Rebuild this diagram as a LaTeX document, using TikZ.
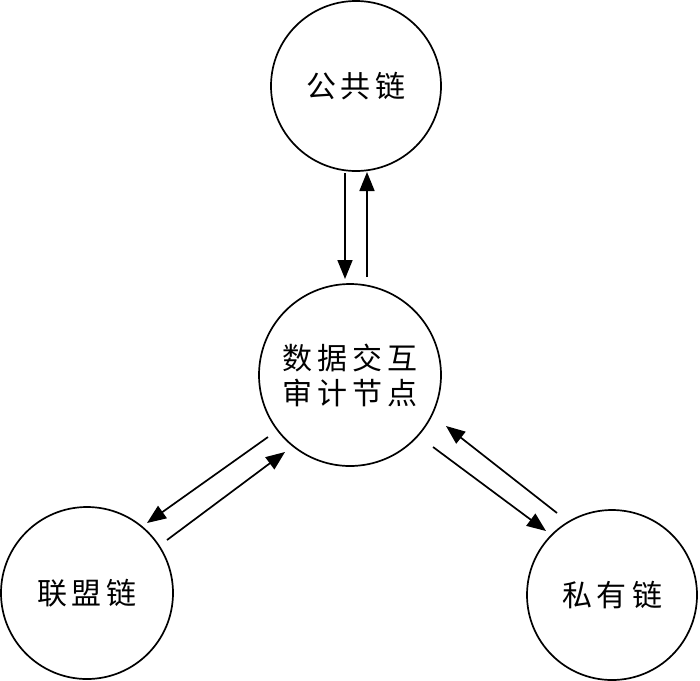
\documentclass[tikz,border=0pt]{standalone}
\usepackage{fontspec}
\newfontfamily\cjk{Noto Sans CJK SC}
\usetikzlibrary{arrows.meta}
\tikzset{
  chain/.style={circle, draw, line width=1.7pt, inner sep=0pt, font=\cjk\fontsize{30}{35}\selectfont, align=center},
  link/.style={line width=1.7pt, -{Triangle[length=19pt,width=15pt]}}
}
\newcommand{\gp}{\hspace{5pt}}
\begin{document}
\begin{tikzpicture}[x=1pt,y=-1pt]
\useasboundingbox (0,0) rectangle (700,680);
\node[chain, minimum size=170pt] (pub) at (356,86) {公\gp 共\gp 链};
\node[chain, minimum size=182pt] (mid) at (350,375) {数\gp 据\gp 交\gp 互\\审\gp 计\gp 节\gp 点};
\node[chain, minimum size=172pt] (con) at (87,593) {联\gp 盟\gp 链};
\node[chain, minimum size=170pt] (pri) at (612,595) {私\gp 有\gp 链};
% arrow end points
\coordinate (pd1) at (345,173); \coordinate (pd2) at (345,279);
\coordinate (pu1) at (367,277); \coordinate (pu2) at (367,172);
\coordinate (cd1) at (268,437); \coordinate (cd2) at (147,523);
\coordinate (cu1) at (167,540); \coordinate (cu2) at (285,452);
\coordinate (ru1) at (557,513); \coordinate (ru2) at (446,426);
\coordinate (rd1) at (433,447); \coordinate (rd2) at (546,531);
\draw[link] (pd1) -- (pd2);
\draw[link] (pu1) -- (pu2);
\draw[link] (cd1) -- (cd2);
\draw[link] (cu1) -- (cu2);
\draw[link] (ru1) -- (ru2);
\draw[link] (rd1) -- (rd2);
\end{tikzpicture}
\end{document}
